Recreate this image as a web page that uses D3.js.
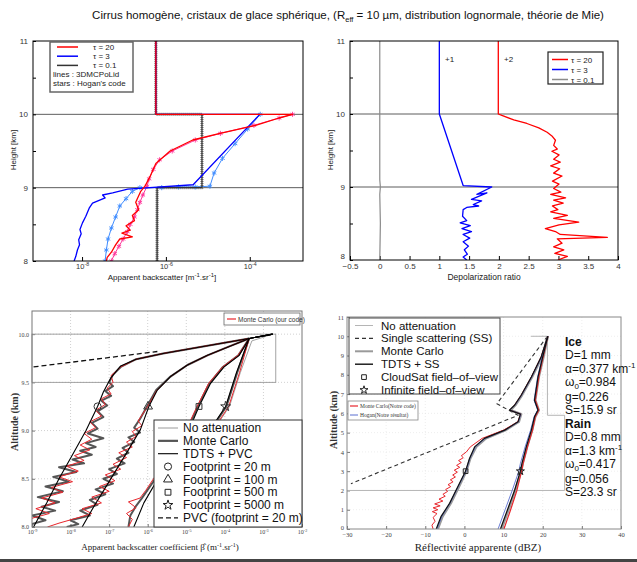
<!DOCTYPE html>
<html>
<head>
<meta charset="utf-8">
<script src="https://cdn.jsdelivr.net/npm/d3@7"></script>
<style>
body { margin: 0; background: #fff; }
svg { display: block; }
text { font-family: "Liberation Sans", Arial, sans-serif; }
.serif { font-family: "Liberation Serif", "Times New Roman", serif; }
</style>
</head>
<body>
<svg id="fig" width="637" height="562"></svg>
<script>
// ---------------- data ----------------
// panel 1 : [log10(beta), height km]
var p1_t20_mc = [[-6.24,11],[-6.24,10],[-2.98,10],[-3.3,9.95],[-3.86,9.85],[-4.71,9.74],[-5.36,9.65],[-5.9,9.5],[-6.24,9.33],[-6.38,9.15],[-6.5,9.02],[-6.6,8.95],[-6.72,8.8],[-6.65,8.7],[-6.8,8.62],[-6.75,8.55],[-6.95,8.48],[-6.85,8.42],[-7.05,8.38],[-6.8,8.33],[-7.1,8.3],[-7.2,8.22],[-7.3,8.12],[-7.4,8.05],[-7.42,8]];
var p1_t20_hog = [[-2.98,10],[-3.3,9.95],[-3.9,9.85],[-4.7,9.74],[-5.3,9.65],[-5.85,9.5],[-6.15,9.38],[-6.3,9.25],[-6.4,9.12],[-6.45,9.02],[-6.55,8.9],[-6.62,8.8],[-6.68,8.7],[-6.75,8.6],[-6.85,8.5],[-6.92,8.4],[-7.02,8.3],[-7.12,8.2],[-7.22,8.1],[-7.3,8]];
var p1_t3_mc = [[-6.24,11],[-6.24,10],[-3.76,10],[-5.35,9.04],[-6.91,8.98],[-7.27,8.93],[-7.51,8.9],[-7.45,8.86],[-7.75,8.79],[-7.83,8.72],[-7.91,8.61],[-7.99,8.52],[-8.05,8.43],[-8.02,8.37],[-8.08,8.29],[-8.06,8.22],[-8.11,8.15],[-8.15,8.06],[-8.19,8]];
var p1_t3_hog = [[-3.75,10],[-4.05,9.8],[-4.35,9.6],[-4.65,9.4],[-4.85,9.2],[-4.95,9.02],[-5.3,9.01],[-5.7,9.01],[-6.1,9],[-6.62,9],[-6.8,8.95],[-6.95,8.85],[-7.1,8.75],[-7.2,8.6],[-7.3,8.45],[-7.38,8.3],[-7.42,8.15],[-7.45,8]];
var p1_t01_mc = [[-6.24,11],[-6.24,10],[-5.14,10],[-5.14,9],[-6.21,9],[-6.21,8]];
var p1_labels = ["\u03c4 = 20", "\u03c4 = 3", "\u03c4 = 0.1"];

// panel 2 : [depolarization ratio (+offset), height km]
var p2_t20 = [[1.99,11],[1.99,10],[2.05,9.98],[2.25,9.92],[2.47,9.87],[2.67,9.81],[2.81,9.75],[2.89,9.7],[2.95,9.64],[2.92,9.57],[2.98,9.52],[2.89,9.49],[3.01,9.44],[2.92,9.38],[3.03,9.34],[2.87,9.29],[3.02,9.25],[2.92,9.19],[3.06,9.15],[2.9,9.08],[3.01,9.04],[2.92,8.98],[3.04,8.93],[2.87,8.9],[3.12,8.85],[2.92,8.82],[3.08,8.78],[2.9,8.74],[2.99,8.69],[2.87,8.66],[3.15,8.61],[2.92,8.57],[3.34,8.52],[3.01,8.48],[2.78,8.43],[2.95,8.39],[3.03,8.35],[3.82,8.31],[2.98,8.29],[3.06,8.23],[2.92,8.18],[3.09,8.14],[2.94,8.09],[3.15,8.05],[2.99,8]];
var p2_t3 = [[1,11],[1,10],[1.4,9.02],[1.88,9],[1.63,8.9],[1.8,8.92],[1.54,8.83],[1.71,8.81],[1.57,8.76],[1.66,8.74],[1.46,8.72],[1.4,8.69],[1.39,8.6],[1.46,8.54],[1.35,8.51],[1.52,8.47],[1.38,8.43],[1.54,8.39],[1.4,8.35],[1.51,8.3],[1.4,8.25],[1.49,8.19],[1.42,8.14],[1.47,8.08],[1.4,8.04],[1.46,8]];
var p2_t01 = [[0,11],[0,9.1],[0.01,9],[0,8.9],[0.01,8.5],[0,8]];
var p2_ticks = [-0.5,0,0.5,1,1.5,2,2.5,3,3.5,4];

// panel 3 : [log10(beta), altitude km]
var p3_noatt = [[-2.76,10],[-3.3,9.93],[-3.6,9.6],[-3.88,9.25],[-4.18,9.07],[-4.53,8.73],[-4.84,8.38],[-5.1,8]];
var p3_tdts_20 = [[-2.76,10],[-3.37,9.955],[-4.6,9.87],[-5.6,9.8],[-6.3,9.74],[-6.7,9.67],[-6.95,9.55],[-7.15,9.4],[-7.3,9.25],[-7.6,9],[-7.95,8.75],[-8.3,8.5],[-8.62,8.25],[-8.96,8]];
var p3_mc_20 = [[-3.37,9.955],[-4.6,9.87],[-5.6,9.8],[-6.3,9.74],[-6.7,9.66],[-6.9,9.58],[-7,9.5],[-6.9,9.46],[-7.1,9.41],[-6.95,9.36],[-7.2,9.31],[-7.05,9.26],[-7.3,9.2],[-7.15,9.14],[-7.45,9.08],[-7.3,9.02],[-7.55,8.97],[-7.15,8.92],[-7.6,8.87],[-7.35,8.83],[-7.75,8.79],[-7.45,8.75],[-7.95,8.7],[-7.65,8.66],[-8.3,8.62],[-7.85,8.57],[-8.45,8.52],[-8.05,8.47],[-8.65,8.42],[-8.2,8.37],[-8.85,8.31],[-8.3,8.26],[-8.75,8.21],[-8.4,8.17],[-9,8.12],[-8.65,8.07],[-9.1,8.02]];
var p3_red_20 = [[-3.37,9.955],[-4.6,9.87],[-5.6,9.8],[-6.3,9.74],[-6.7,9.66],[-6.95,9.57],[-6.9,9.5],[-7.05,9.44],[-6.95,9.38],[-7.2,9.33],[-7.1,9.27],[-7.35,9.21],[-7.2,9.15],[-7.5,9.09],[-7.35,9.03],[-7.65,8.97],[-7.45,8.91],[-7.75,8.85],[-7.5,8.8],[-7.9,8.74],[-7.65,8.69],[-8.1,8.63],[-7.8,8.58],[-8.3,8.52],[-7.95,8.47],[-8.5,8.41],[-8.2,8.36],[-8.75,8.3],[-8.4,8.25],[-8.9,8.19],[-8.55,8.14],[-9.1,8.08]];
var p3_tdts_100 = [[-2.76,10],[-3.37,9.955],[-3.9,9.87],[-4.45,9.78],[-4.97,9.68],[-5.41,9.56],[-5.75,9.42],[-5.97,9.25],[-6.19,9.01],[-6.5,8.8],[-6.82,8.59],[-7.14,8.38],[-7.4,8.21],[-7.7,8]];
var p3_mc_100 = [[-3.37,9.955],[-3.9,9.87],[-4.45,9.78],[-4.97,9.68],[-5.41,9.56],[-5.78,9.42],[-6.02,9.25],[-6.2,9.12],[-6.35,9.03],[-6.2,8.98],[-6.5,8.93],[-6.35,8.88],[-6.65,8.82],[-6.5,8.77],[-6.8,8.71],[-6.6,8.66],[-7,8.6],[-6.8,8.55],[-7.15,8.5],[-6.9,8.45],[-7.35,8.39],[-7.1,8.34],[-7.5,8.28],[-7.3,8.23],[-7.75,8.17],[-7.5,8.12],[-8,8.07],[-7.8,8.03],[-8.1,8]];
var p3_red_100 = [[-3.37,9.955],[-3.9,9.87],[-4.45,9.78],[-4.97,9.68],[-5.41,9.56],[-5.76,9.42],[-6,9.25],[-6.25,9.1],[-6.15,9.05],[-6.4,8.99],[-6.3,8.94],[-6.55,8.88],[-6.4,8.83],[-6.75,8.77],[-6.55,8.72],[-6.9,8.65],[-6.7,8.6],[-7.1,8.54],[-6.85,8.48],[-7.25,8.42],[-7,8.37],[-7.45,8.31],[-7.2,8.25],[-7.7,8.19],[-7.45,8.14],[-7.95,8.08],[-8.3,8.04],[-8.6,8]];
var p3_tdts_500 = [[-2.76,10],[-3.37,9.955],[-3.63,9.78],[-4.02,9.66],[-4.37,9.49],[-4.67,9.25],[-4.97,8.97],[-5.32,8.73],[-5.75,8.49],[-6.1,8.25],[-6.36,8]];
var p3_mc_500 = [[-3.37,9.955],[-3.65,9.78],[-4.05,9.66],[-4.4,9.49],[-4.7,9.25],[-5.02,8.97],[-5.38,8.73],[-5.82,8.49],[-6.15,8.3],[-6.3,8.22],[-6.45,8.12],[-6.5,8]];
var p3_red_500 = [[-3.37,9.955],[-3.66,9.78],[-4.06,9.66],[-4.42,9.49],[-4.72,9.25],[-5.05,8.97],[-5.4,8.75],[-5.6,8.65],[-5.85,8.5],[-6.05,8.38],[-6.2,8.3],[-6.5,8.26],[-6.3,8.2],[-6.55,8.14],[-6.4,8.08],[-6.5,8]];
var p3_tdts_5000 = [[-2.76,10],[-3.37,9.955],[-3.7,9.6],[-3.98,9.25],[-4.28,9.07],[-4.63,8.73],[-4.93,8.38],[-5.19,8]];
var p3_mc_5000 = [[-3.37,9.955],[-3.68,9.6],[-3.96,9.25],[-4.26,9.07],[-4.6,8.73],[-4.9,8.38],[-5.16,8]];
var p3_red_5000 = [[-3.37,9.955],[-3.62,9.6],[-3.9,9.25],[-4.2,9.07],[-4.53,8.73],[-4.83,8.38],[-5.1,8]];
var p3_pvc = [[-8.96,9.66],[-5.75,9.82]];
var p3_marker_x = [-7.3,-5.99,-4.67,-3.98];
var p3_marker_y = 9.25;
var p3_legend = ["No attenuation","Monte Carlo","TDTS + PVC","Footprint = 20 m","Footprint = 100 m","Footprint = 500 m","Footprint = 5000 m","PVC (footprint = 20 m)"];

// panel 4 : [dBZ, altitude km]
var p4_noatt = [[17,10],[21.2,10],[21.2,5.9],[25.6,5.9],[25.6,2],[-30,2]];
var p4_ss = [[21.2,10],[8.3,6.5],[13.7,5.9],[-29,2.35]];
var p4_tdts_cs = [[21.3,10],[19.6,8.93],[17.1,7.89],[14.5,6.94],[12.8,6.42],[11.5,6.17],[14.3,5.96],[13.7,5.56],[10.3,5.13],[5.1,4.7],[2.6,4.26],[1.3,3.66],[0.28,3],[-1.7,2.19],[-3.8,1.33],[-6,0.64],[-7.2,0]];
var p4_mc_cs = [[21.3,10],[19.8,8.93],[17.3,7.89],[14.7,6.94],[13,6.42],[11.8,6.17],[14.5,5.96],[13.9,5.56],[10.5,5.13],[5.5,4.7],[3,4.26],[1.5,3.66],[0.5,3],[-1.4,2.19],[-3.5,1.33],[-5.6,0.64],[-6.8,0]];
var p4_red_cs = [[21.3,10],[19.6,8.93],[17.1,7.89],[14.5,6.94],[12.8,6.42],[11.6,6.17],[14.4,5.96],[13.6,5.56],[10,5.13],[4.5,4.7],[1.5,4.26],[0.5,4],[-0.8,3.8],[-0.3,3.7],[-1.5,3.55],[-0.8,3.45],[-2,3.3],[-1.2,3.2],[-2.6,3.05],[-1.8,2.95],[-3,2.8],[-2.3,2.7],[-3.6,2.55],[-2.9,2.45],[-4.2,2.3],[-3.5,2.2],[-4.8,2.05],[-4.3,1.95],[-5.5,1.8],[-4.9,1.7],[-6.5,1.55],[-5.5,1.45],[-7.6,1.3],[-6.2,1.2],[-8,1.1],[-6.8,1],[-8.2,0.9],[-7,0.8],[-8,0.6],[-7.5,0.4],[-8.3,0.2],[-8,0]];
var p4_blue_cs = [[21.3,10],[19.7,8.93],[17.2,7.89],[14.6,6.94],[12.9,6.42],[11.6,6.17],[14.4,5.96],[13.8,5.56],[10.4,5.13],[5.3,4.7],[2.8,4.26],[1.4,3.66],[0.4,3],[-1.6,2.19],[-3.7,1.33],[-5.8,0.64],[-7,0]];
var p4_tdts_inf = [[21.3,10],[20,8.93],[18.8,7.89],[17.9,6.68],[18.8,6.17],[17.9,5.82],[17.1,5.13],[15.8,4.26],[14.7,3.4],[14.3,3],[12.8,2],[11,1],[9.2,0]];
var p4_mc_inf = [[21.3,10],[20.2,8.93],[19,7.89],[18.1,6.68],[19,6.17],[18.1,5.82],[17.3,5.13],[16,4.26],[14.9,3.4],[14.5,3],[13,2],[11.3,1],[9.5,0]];
var p4_red_inf = [[21.3,10],[20.1,8.93],[19,7.89],[18.1,6.68],[19,6.17],[18.1,5.82],[17.4,5.13],[16.1,4.26],[15,3.4],[14.6,3],[13.4,2],[11.8,1],[10.1,0]];
var p4_blue_inf = [[21.3,10],[19.9,8.93],[18.7,7.89],[17.8,6.68],[18.7,6.17],[17.8,5.82],[16.9,5.13],[15.5,4.26],[14.3,3.4],[13.9,3],[12.2,2],[10.4,1],[8.6,0]];
var p4_square = [0.3,3];
var p4_star = [14.3,3];
var p4_legend = ["No attenuation","Single scattering (SS)","Monte Carlo","TDTS + SS","CloudSat field\u2013of\u2013view","Infinite field\u2013of\u2013view"];

var svg = d3.select("#fig");

// ---------------- helpers ----------------
function supTicks(axisG, size) {
    axisG.selectAll(".tick text").each(function(d) {
        var t = d3.select(this);
        t.text("10");
        t.append("tspan").attr("dy", -size*0.45).attr("font-size", size*0.7)
            .text(Math.round(Math.log10(d)));
    });
}

function clip(id, x0, y0, x1, y1) {
    svg.append("clipPath").attr("id", id).append("rect")
        .attr("x", x0).attr("y", y0).attr("width", x1 - x0).attr("height", y1 - y0);
}

function drawPath(g, data, line, color, w, dash) {
    return g.append("path").datum(data)
        .attr("d", line).attr("fill", "none")
        .attr("stroke", color).attr("stroke-width", w)
        .attr("stroke-linejoin", "round")
        .attr("stroke-dasharray", dash || null);
}

var astType = d3.symbolAsterisk || d3.symbolCross;

// ---------------- title ----------------
var title = svg.append("text").attr("x", 348).attr("y", 19)
    .attr("text-anchor", "middle").attr("font-size", 11.5).attr("fill", "#111");
title.append("tspan").text("Cirrus homogène, cristaux de glace sphérique, (R");
title.append("tspan").attr("font-size", 7.5).attr("dy", 3).text("eff");
title.append("tspan").attr("dy", -3).text(" = 10 µm, distribution  lognormale, théorie de Mie)");

// ======================= panel 1 =======================
var L1 = 33, R1 = 303, T1 = 41, B1 = 261;
var x1 = d3.scaleLog().domain([Math.pow(10, -9.17), Math.pow(10, -2.73)]).range([L1, R1]);
var y1 = d3.scaleLinear().domain([8, 11]).range([B1, T1]);
var line1 = d3.line().x(function(d) { return x1(Math.pow(10, d[0])); }).y(function(d) { return y1(d[1]); });
var g1 = svg.append("g");
clip("c1", L1, T1, R1, B1);

g1.selectAll(".hl").data([9, 10]).enter().append("line")
    .attr("x1", L1).attr("x2", R1).attr("y1", y1).attr("y2", y1)
    .attr("stroke", "#333").attr("stroke-width", 0.8);

var gx1 = g1.append("g").attr("transform", "translate(0," + B1 + ")")
    .call(d3.axisBottom(x1).tickValues([1e-8, 1e-6, 1e-4]).tickSizeInner(-4).tickSizeOuter(0).tickPadding(3));
gx1.select(".domain").remove();
gx1.selectAll("text").attr("font-size", 7.5).attr("fill", "#333");
supTicks(gx1, 7.5);
var gy1 = g1.append("g").attr("transform", "translate(" + L1 + ",0)")
    .call(d3.axisLeft(y1).tickValues([8, 8.5, 9, 9.5, 10, 10.5, 11]).tickSizeInner(-3).tickSizeOuter(0).tickPadding(5)
        .tickFormat(function(d) { return d % 1 === 0 ? d : ""; }));
gy1.select(".domain").remove();
gy1.selectAll("text").attr("font-size", 8).attr("fill", "#333");

var c1 = g1.append("g").attr("clip-path", "url(#c1)");
// Hogan's code (stars)
drawPath(c1, p1_t01_mc, line1, "#8a8a8a", 3.2, "1.2,0.8");
drawPath(c1, p1_t3_hog, line1, "#3f8cff", 1);
drawPath(c1, p1_t20_hog, line1, "#ff3399", 1);
c1.selectAll(".s3").data(p1_t3_hog).enter().append("path")
    .attr("d", d3.symbol(astType, 18)).attr("fill", "none").attr("stroke", "#3f8cff").attr("stroke-width", 0.9)
    .attr("transform", function(d) { return "translate(" + x1(Math.pow(10, d[0])) + "," + y1(d[1]) + ")"; });
c1.selectAll(".s20").data(p1_t20_hog).enter().append("path")
    .attr("d", d3.symbol(astType, 18)).attr("fill", "none").attr("stroke", "#ff3399").attr("stroke-width", 0.9)
    .attr("transform", function(d) { return "translate(" + x1(Math.pow(10, d[0])) + "," + y1(d[1]) + ")"; });
// 3DMCPoLid (lines)
drawPath(c1, p1_t01_mc, line1, "#333", 1.3);
drawPath(c1, p1_t3_mc, line1, "#0000ff", 1.3);
drawPath(c1, p1_t20_mc, line1, "#ff0000", 1.3);

g1.append("rect").attr("x", L1).attr("y", T1).attr("width", R1 - L1).attr("height", B1 - T1)
    .attr("fill", "none").attr("stroke", "#000").attr("stroke-width", 1);

// legend
var lg1 = g1.append("g");
lg1.append("rect").attr("x", 50).attr("y", 42).attr("width", 83).attr("height", 50)
    .attr("fill", "#fff").attr("stroke", "#666").attr("stroke-width", 1.5);
var cols1 = ["#ff0000", "#0000ff", "#333"];
p1_labels.forEach(function(t, i) {
    var yy = 47 + i * 9.2;
    lg1.append("line").attr("x1", 57).attr("x2", 78).attr("y1", yy).attr("y2", yy).attr("stroke", cols1[i]).attr("stroke-width", 1.5);
    lg1.append("text").attr("x", 93).attr("y", yy + 3).attr("font-size", 8).attr("fill", "#222").text(t);
});
lg1.append("text").attr("x", 53).attr("y", 77).attr("font-size", 8).attr("fill", "#222").text("lines   : 3DMCPoLid");
lg1.append("text").attr("x", 53).attr("y", 86).attr("font-size", 8).attr("fill", "#222").text("stars : Hogan's code");

var xl1 = g1.append("text").attr("x", 162).attr("y", 280).attr("text-anchor", "middle").attr("font-size", 8).attr("fill", "#222");
xl1.append("tspan").text("Apparent backscatter [m");
xl1.append("tspan").attr("dy", -3).attr("font-size", 6).text("-1");
xl1.append("tspan").attr("dy", 3).text(".sr");
xl1.append("tspan").attr("dy", -3).attr("font-size", 6).text("-1");
xl1.append("tspan").attr("dy", 3).text("]");
g1.append("text").attr("transform", "translate(16,150) rotate(-90)").attr("text-anchor", "middle")
    .attr("font-size", 8).attr("fill", "#222").text("Height [km]");

// ======================= panel 2 =======================
var L2 = 350, R2 = 618, T2 = 41, B2 = 260;
var x2 = d3.scaleLinear().domain([-0.5, 4]).range([L2, R2]);
var y2 = d3.scaleLinear().domain([8, 11]).range([B2, T2]);
var line2 = d3.line().x(function(d) { return x2(d[0]); }).y(function(d) { return y2(d[1]); });
var g2 = svg.append("g");
clip("c2", L2, T2, R2, B2);

g2.selectAll(".hl").data([9, 10]).enter().append("line")
    .attr("x1", L2).attr("x2", R2).attr("y1", y2).attr("y2", y2)
    .attr("stroke", "#333").attr("stroke-width", 0.8);

var gx2 = g2.append("g").attr("transform", "translate(0," + B2 + ")")
    .call(d3.axisBottom(x2).tickValues(p2_ticks).tickSizeInner(-4).tickSizeOuter(0).tickPadding(3).tickFormat(d3.format("")));
gx2.select(".domain").remove();
gx2.selectAll("text").attr("font-size", 8).attr("fill", "#333");
var gy2 = g2.append("g").attr("transform", "translate(" + L2 + ",0)")
    .call(d3.axisLeft(y2).tickValues([8, 8.5, 9, 9.5, 10, 10.5, 11]).tickSizeInner(-3).tickSizeOuter(0).tickPadding(5)
        .tickFormat(function(d) { return d % 1 === 0 ? d : ""; }));
gy2.select(".domain").remove();
gy2.selectAll("text").attr("font-size", 8).attr("fill", "#333");
gy2.selectAll(".tick text").filter(function(d) { return d === 8; }).attr("dy", "-0.15em");

var c2 = g2.append("g").attr("clip-path", "url(#c2)");
drawPath(c2, p2_t01, line2, "#8a8a8a", 1.2);
drawPath(c2, p2_t3, line2, "#0000ff", 1.3);
drawPath(c2, p2_t20, line2, "#ff0000", 1.3);

g2.append("rect").attr("x", L2).attr("y", T2).attr("width", R2 - L2).attr("height", B2 - T2)
    .attr("fill", "none").attr("stroke", "#000").attr("stroke-width", 1);

g2.append("text").attr("x", 445).attr("y", 62).attr("font-size", 8).attr("fill", "#222").text("+1");
g2.append("text").attr("x", 504).attr("y", 62).attr("font-size", 8).attr("fill", "#222").text("+2");

var lg2 = g2.append("g");
lg2.append("rect").attr("x", 548).attr("y", 52).attr("width", 55).attr("height", 32)
    .attr("fill", "#fff").attr("stroke", "#222").attr("stroke-width", 1.2);
var cols2 = ["#ff0000", "#0000ff", "#8a8a8a"];
p1_labels.forEach(function(t, i) {
    var yy = 59.5 + i * 10;
    lg2.append("line").attr("x1", 552).attr("x2", 568).attr("y1", yy).attr("y2", yy).attr("stroke", cols2[i]).attr("stroke-width", 1.5);
    lg2.append("text").attr("x", 571).attr("y", yy + 3).attr("font-size", 8).attr("fill", "#222").text(t);
});

g2.append("text").attr("x", 484).attr("y", 280).attr("text-anchor", "middle").attr("font-size", 8.5).attr("fill", "#222").text("Depolarization ratio");
g2.append("text").attr("transform", "translate(333,150) rotate(-90)").attr("text-anchor", "middle")
    .attr("font-size", 8).attr("fill", "#222").text("Height [km]");

// ======================= panel 3 =======================
var L3 = 32, R3 = 302, T3 = 311, B3 = 527;
var x3 = d3.scaleLog().domain([1e-9, 1e-2]).range([L3, R3]);
var y3 = d3.scaleLinear().domain([8, 10.24]).range([B3, T3]);
var line3 = d3.line().x(function(d) { return x3(Math.pow(10, d[0])); }).y(function(d) { return y3(d[1]); });
var g3 = svg.append("g");
clip("c3", L3, T3, R3, B3);

var dec3 = [1e-9, 1e-8, 1e-7, 1e-6, 1e-5, 1e-4, 1e-3, 1e-2];
g3.selectAll(".gv").data(dec3.slice(1, 7)).enter().append("line")
    .attr("x1", x3).attr("x2", x3).attr("y1", T3).attr("y2", B3)
    .attr("stroke", "#bbb").attr("stroke-width", 0.7).attr("stroke-dasharray", "1,2");
g3.selectAll(".gh").data([8.5, 9, 9.5, 10]).enter().append("line")
    .attr("x1", L3).attr("x2", R3).attr("y1", y3).attr("y2", y3)
    .attr("stroke", "#bbb").attr("stroke-width", 0.7).attr("stroke-dasharray", "1,2");

var gx3 = g3.append("g").attr("transform", "translate(0," + B3 + ")")
    .call(d3.axisBottom(x3).tickValues(dec3).tickSizeInner(-3).tickSizeOuter(0).tickPadding(3));
gx3.select(".domain").remove();
gx3.selectAll("text").attr("class", "serif").attr("font-size", 6).attr("fill", "#444");
supTicks(gx3, 6);
var gy3 = g3.append("g").attr("transform", "translate(" + L3 + ",0)")
    .call(d3.axisLeft(y3).tickValues([8, 8.5, 9, 9.5, 10]).tickSizeInner(-3).tickSizeOuter(0).tickPadding(3));
gy3.select(".domain").remove();
gy3.selectAll("text").attr("class", "serif").attr("font-size", 6).attr("fill", "#444");
gy3.selectAll("line, path").attr("stroke", "#777");
gx3.selectAll("line").attr("stroke", "#777");

// zoom box
g3.append("rect").attr("x", x3(1e-9)).attr("y", y3(10)).attr("width", x3(Math.pow(10, -2.68)) - x3(1e-9))
    .attr("height", y3(9.5) - y3(10)).attr("fill", "none").attr("stroke", "#999").attr("stroke-width", 0.9);

var c3 = g3.append("g").attr("clip-path", "url(#c3)");
drawPath(c3, p3_noatt, line3, "#9a9a9a", 0.9);
[p3_mc_20, p3_mc_100, p3_mc_500, p3_mc_5000].forEach(function(s) { drawPath(c3, s, line3, "#555", 2); });
[p3_red_20, p3_red_100, p3_red_500, p3_red_5000].forEach(function(s) { drawPath(c3, s, line3, "#e8262c", 1); });
[p3_tdts_20, p3_tdts_100, p3_tdts_500, p3_tdts_5000].forEach(function(s) { drawPath(c3, s, line3, "#000", 1.1); });
drawPath(c3, p3_pvc, line3, "#111", 1.3, "5,3");

var mk3 = [d3.symbolCircle, d3.symbolTriangle, d3.symbolSquare, d3.symbolStar];
var mkSize3 = [40, 34, 34, 30];
p3_marker_x.forEach(function(e, i) {
    c3.append("path").attr("d", d3.symbol(mk3[i], mkSize3[i]))
        .attr("transform", "translate(" + x3(Math.pow(10, e)) + "," + y3(p3_marker_y) + ")")
        .attr("fill", "none").attr("stroke", "#333").attr("stroke-width", 1);
});

g3.append("rect").attr("x", L3).attr("y", T3).attr("width", R3 - L3).attr("height", B3 - T3)
    .attr("fill", "none").attr("stroke", "#777").attr("stroke-width", 1);

// small legend
g3.append("rect").attr("x", 224).attr("y", 313).attr("width", 76).attr("height", 12)
    .attr("fill", "#fff").attr("stroke", "#666").attr("stroke-width", 0.8);
g3.append("line").attr("x1", 227).attr("x2", 236).attr("y1", 319).attr("y2", 319).attr("stroke", "#e8262c").attr("stroke-width", 1.2);
g3.append("text").attr("x", 238).attr("y", 321.5).attr("font-size", 6.5).attr("fill", "#333").text("Monte Carlo (our code)");

// main legend
var lg3 = g3.append("g");
lg3.append("rect").attr("x", 154).attr("y", 420).attr("width", 148).attr("height", 107)
    .attr("fill", "#fff").attr("stroke", "#333").attr("stroke-width", 1);
p3_legend.forEach(function(t, i) {
    var yy = 428 + i * 12.85;
    if (i === 0) lg3.append("line").attr("x1", 158).attr("x2", 178).attr("y1", yy).attr("y2", yy).attr("stroke", "#9a9a9a").attr("stroke-width", 1);
    if (i === 1) lg3.append("line").attr("x1", 158).attr("x2", 178).attr("y1", yy).attr("y2", yy).attr("stroke", "#555").attr("stroke-width", 2.2);
    if (i === 2) lg3.append("line").attr("x1", 158).attr("x2", 178).attr("y1", yy).attr("y2", yy).attr("stroke", "#000").attr("stroke-width", 1.1);
    if (i >= 3 && i <= 6) lg3.append("path").attr("d", d3.symbol(mk3[i - 3], mkSize3[i - 3]))
        .attr("transform", "translate(168," + yy + ")").attr("fill", "none").attr("stroke", "#222").attr("stroke-width", 1);
    if (i === 7) lg3.append("line").attr("x1", 158).attr("x2", 178).attr("y1", yy).attr("y2", yy).attr("stroke", "#111").attr("stroke-width", 1.3).attr("stroke-dasharray", "5,3");
    lg3.append("text").attr("x", 183).attr("y", yy + 4.2).attr("font-size", 12).attr("fill", "#111").text(t);
});

var xl3 = g3.append("text").attr("class", "serif").attr("x", 160).attr("y", 550).attr("text-anchor", "middle").attr("font-size", 9).attr("fill", "#222");
xl3.append("tspan").text("Apparent backscatter coefficient \u03b2\u0302 (m");
xl3.append("tspan").attr("dy", -3).attr("font-size", 6).text("-1");
xl3.append("tspan").attr("dy", 3).text(".sr");
xl3.append("tspan").attr("dy", -3).attr("font-size", 6).text("-1");
xl3.append("tspan").attr("dy", 3).text(")");
g3.append("text").attr("class", "serif").attr("transform", "translate(18,422) rotate(-90)").attr("text-anchor", "middle")
    .attr("font-size", 10).attr("font-weight", "bold").attr("fill", "#333").text("Altitude (km)");

// ======================= panel 4 =======================
var L4 = 347, R4 = 621, T4 = 317, B4 = 529;
var x4 = d3.scaleLinear().domain([-30, 40]).range([L4, R4]);
var y4 = d3.scaleLinear().domain([0, 11]).range([B4, T4]);
var line4 = d3.line().x(function(d) { return x4(d[0]); }).y(function(d) { return y4(d[1]); });
var g4 = svg.append("g");
clip("c4", L4, T4, R4, B4);

g4.selectAll(".gv").data(d3.range(-20, 40, 10)).enter().append("line")
    .attr("x1", x4).attr("x2", x4).attr("y1", T4).attr("y2", B4)
    .attr("stroke", "#e2e2e2").attr("stroke-width", 0.6).attr("stroke-dasharray", "1,2");
g4.selectAll(".gh").data(d3.range(1, 11)).enter().append("line")
    .attr("x1", L4).attr("x2", R4).attr("y1", y4).attr("y2", y4)
    .attr("stroke", "#e2e2e2").attr("stroke-width", 0.6).attr("stroke-dasharray", "1,2");

var gx4 = g4.append("g").attr("transform", "translate(0," + B4 + ")")
    .call(d3.axisBottom(x4).tickValues(d3.range(-30, 41, 10)).tickSizeInner(-3).tickSizeOuter(0).tickPadding(3));
gx4.select(".domain").remove();
gx4.selectAll("text").attr("class", "serif").attr("font-size", 6.5).attr("fill", "#444");
var gy4 = g4.append("g").attr("transform", "translate(" + L4 + ",0)")
    .call(d3.axisLeft(y4).tickValues(d3.range(0, 12)).tickSizeInner(-3).tickSizeOuter(0).tickPadding(3));
gy4.select(".domain").remove();
gy4.selectAll("text").attr("class", "serif").attr("font-size", 6.5).attr("fill", "#444");
gy4.selectAll(".tick text").filter(function(d) { return d === 0; }).attr("dy", "0em");
gx4.selectAll("line").attr("stroke", "#777");
gy4.selectAll("line").attr("stroke", "#777");

var c4 = g4.append("g").attr("clip-path", "url(#c4)");
drawPath(c4, p4_noatt, line4, "#b5b5b5", 1);
drawPath(c4, p4_ss, line4, "#333", 1.1, "4,3");
drawPath(c4, p4_mc_cs, line4, "#9a9a9a", 2.4);
drawPath(c4, p4_mc_inf, line4, "#9a9a9a", 2.4);
drawPath(c4, p4_red_cs, line4, "#e8262c", 1);
drawPath(c4, p4_red_inf, line4, "#e8262c", 1.2);
drawPath(c4, p4_blue_cs, line4, "#5a6fd0", 0.9);
drawPath(c4, p4_blue_inf, line4, "#5a6fd0", 0.9);
drawPath(c4, p4_tdts_cs, line4, "#111", 1.2);
drawPath(c4, p4_tdts_inf, line4, "#111", 1.2);
c4.append("path").attr("d", d3.symbol(d3.symbolSquare, 22))
    .attr("transform", "translate(" + x4(p4_square[0]) + "," + y4(p4_square[1]) + ")")
    .attr("fill", "none").attr("stroke", "#222").attr("stroke-width", 1);
c4.append("path").attr("d", d3.symbol(d3.symbolStar, 20))
    .attr("transform", "translate(" + x4(p4_star[0]) + "," + y4(p4_star[1]) + ")")
    .attr("fill", "none").attr("stroke", "#222").attr("stroke-width", 1);

g4.append("rect").attr("x", L4).attr("y", T4).attr("width", R4 - L4).attr("height", B4 - T4)
    .attr("fill", "none").attr("stroke", "#888").attr("stroke-width", 1);

// main legend
var lg4 = g4.append("g");
lg4.append("rect").attr("x", 349).attr("y", 318).attr("width", 151).attr("height", 76)
    .attr("fill", "#fff").attr("stroke", "#444").attr("stroke-width", 1);
p4_legend.forEach(function(t, i) {
    var yy = 325.5 + i * 12.9;
    if (i === 0) lg4.append("line").attr("x1", 355).attr("x2", 373).attr("y1", yy).attr("y2", yy).attr("stroke", "#b5b5b5").attr("stroke-width", 1);
    if (i === 1) lg4.append("line").attr("x1", 355).attr("x2", 373).attr("y1", yy).attr("y2", yy).attr("stroke", "#333").attr("stroke-width", 1.1).attr("stroke-dasharray", "4,3");
    if (i === 2) lg4.append("line").attr("x1", 355).attr("x2", 373).attr("y1", yy).attr("y2", yy).attr("stroke", "#9a9a9a").attr("stroke-width", 2);
    if (i === 3) lg4.append("line").attr("x1", 355).attr("x2", 373).attr("y1", yy).attr("y2", yy).attr("stroke", "#111").attr("stroke-width", 1.4);
    if (i === 4) lg4.append("path").attr("d", d3.symbol(d3.symbolSquare, 22)).attr("transform", "translate(364," + yy + ")").attr("fill", "none").attr("stroke", "#222");
    if (i === 5) lg4.append("path").attr("d", d3.symbol(d3.symbolStar, 20)).attr("transform", "translate(364," + yy + ")").attr("fill", "none").attr("stroke", "#222");
    lg4.append("text").attr("x", 381).attr("y", yy + 4).attr("font-size", 11.5).attr("fill", "#111").text(t);
});

// small legend
g4.append("rect").attr("x", 348).attr("y", 401).attr("width", 70).attr("height", 19)
    .attr("fill", "#fff").attr("stroke", "#888").attr("stroke-width", 0.8);
g4.append("line").attr("x1", 350).attr("x2", 358).attr("y1", 406).attr("y2", 406).attr("stroke", "#e8262c").attr("stroke-width", 1.2);
g4.append("line").attr("x1", 350).attr("x2", 358).attr("y1", 415).attr("y2", 415).attr("stroke", "#5a6fd0").attr("stroke-width", 1);
g4.append("text").attr("class", "serif").attr("x", 360).attr("y", 408).attr("font-size", 5.5).attr("fill", "#333").text("Monte Carlo(Notre code)");
g4.append("text").attr("class", "serif").attr("x", 360).attr("y", 417).attr("font-size", 5.5).attr("fill", "#333").text("Hogan(Notre résultat)");

// annotations : parts are [text, dy, small]
function ann(yy, parts, bold) {
    var t = g4.append("text").attr("x", 565).attr("y", yy).attr("font-size", 12).attr("fill", "#111")
        .attr("font-weight", bold ? "bold" : null);
    parts.forEach(function(p) {
        var s = t.append("tspan").text(p[0]);
        if (p[1]) s.attr("dy", p[1]);
        if (p[2]) s.attr("font-size", 8);
    });
}
ann(345.5, [["Ice"]], true);
ann(359, [["D=1 mm"]]);
ann(372.5, [["\u03b1=0.377 km"], ["-1", -5, true]]);
ann(386, [["\u03c9"], ["0", 3, true], ["=0.984", -3]]);
ann(400.5, [["g=0.226"]]);
ann(413.5, [["S=15.9 sr"]]);
ann(427.5, [["Rain"]], true);
ann(441, [["D=0.8 mm"]]);
ann(454.5, [["\u03b1=1.3 km"], ["-1", -5, true]]);
ann(468, [["\u03c9"], ["0", 3, true], ["=0.417", -3]]);
ann(482.5, [["g=0.056"]]);
ann(496, [["S=23.3 sr"]]);

g4.append("text").attr("class", "serif").attr("x", 478).attr("y", 551).attr("text-anchor", "middle")
    .attr("font-size", 11).attr("fill", "#222").text("Réflectivité apparente (dBZ)");
g4.append("text").attr("class", "serif").attr("transform", "translate(337,420) rotate(-90)").attr("text-anchor", "middle")
    .attr("font-size", 10).attr("font-weight", "bold").attr("fill", "#333").text("Altitude (km)");

// bottom rule
svg.append("rect").attr("x", 0).attr("y", 559).attr("width", 637).attr("height", 3).attr("fill", "#444");
</script>
</body>
</html>
